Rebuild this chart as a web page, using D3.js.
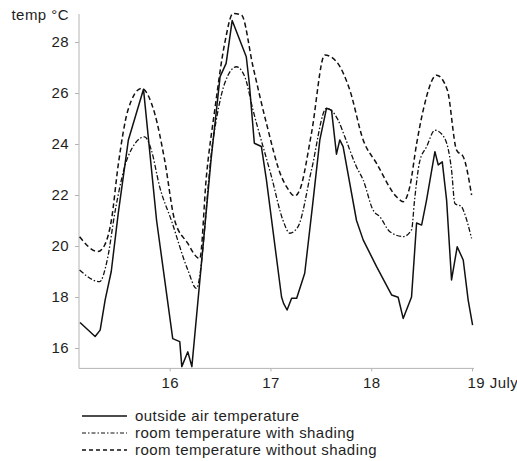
<!DOCTYPE html>
<html>
<head>
<meta charset="utf-8">
<script src="https://cdn.jsdelivr.net/npm/d3@7/dist/d3.min.js"></script>
<style>
  html, body { margin: 0; padding: 0; background: #fff; }
  svg { display: block; font-family: "Liberation Sans", Arial, Helvetica, sans-serif; }
</style>
</head>
<body>
<svg id="chart" width="517" height="461"></svg>
<script>
// Time in days (July), temperatures in °C
const outsideTime = [15.11, 15.26, 15.31, 15.36, 15.42, 15.49, 15.59, 15.74, 15.87, 16.03, 16.10, 16.12, 16.18, 16.22,
  16.41, 16.50, 16.56, 16.62, 16.76, 16.79, 16.84, 16.91, 16.96, 17.11, 17.13, 17.165, 17.21, 17.26, 17.34, 17.42,
  17.49, 17.556, 17.606, 17.655, 17.688, 17.721, 17.854, 17.92, 18.053, 18.202, 18.267, 18.317, 18.40, 18.45, 18.50,
  18.549, 18.632, 18.665, 18.705, 18.748, 18.797, 18.853, 18.913, 18.962, 19.006];
const outsideTemp = [17.0, 16.45, 16.7, 17.9, 19.0, 21.3, 24.16, 26.15, 21.0, 16.37, 16.25, 15.27, 15.85, 15.27,
  23.37, 26.64, 27.16, 28.84, 27.42, 26.38, 24.03, 23.9, 22.59, 18.0, 17.75, 17.49, 17.95, 17.95, 18.93, 21.67,
  24.16, 25.4, 25.33, 23.6, 24.16, 23.9, 21.0, 20.24, 19.19, 18.08, 17.99, 17.16, 18.0, 20.9, 20.82,
  21.8, 23.7, 23.18, 23.3, 21.8, 18.67, 19.97, 19.45, 17.88, 16.9];

const shadedTime = [15.106, 15.305, 15.38, 15.46, 15.586, 15.751, 15.818, 15.90, 16.017, 16.18, 16.265,
  16.43, 16.546, 16.662, 16.745, 16.827, 17.01, 17.125, 17.192, 17.274, 17.407, 17.556, 17.671, 17.738,
  17.854, 17.92, 18.019, 18.085, 18.185, 18.317, 18.40, 18.43, 18.48, 18.55, 18.632, 18.721, 18.797,
  18.83, 18.897, 18.913, 18.996];
const shadedTemp = [19.06, 18.6, 19.45, 21.4, 23.5, 24.28, 23.76, 22.33, 21.0, 19.06, 18.34,
  24.16, 26.38, 27.03, 26.64, 25.33, 22.72, 21.0, 20.5, 20.76, 22.98, 25.4, 24.94, 24.28,
  23.1, 22.59, 21.4, 21.15, 20.56, 20.37, 20.63, 21.8, 23.3, 23.9, 24.54, 24.28, 22.98,
  21.67, 21.54, 21.41, 20.3];

const unshadedTime = [15.106, 15.288, 15.355, 15.421, 15.49, 15.586, 15.719, 15.851, 15.95, 16.05, 16.18, 16.265, 16.298,
  16.364, 16.447, 16.546, 16.629, 16.712, 16.827, 16.96, 17.109, 17.159, 17.241, 17.291, 17.407, 17.539,
  17.655, 17.787, 17.92, 18.053, 18.251, 18.317, 18.383, 18.45, 18.516, 18.649, 18.755, 18.847, 18.913, 18.996];
const unshadedTemp = [20.36, 19.78, 20.04, 21.0, 23.2, 25.33, 26.18, 25.2, 23.37, 21.0, 20.1, 19.58, 19.5,
  22.72, 25.33, 27.95, 29.12, 29.06, 27.03, 24.81, 22.72, 22.33, 21.96, 22.2, 24.42, 27.49,
  27.23, 26.12, 24.16, 23.24, 21.93, 21.74, 22.33, 24.0, 25.33, 26.7, 26.12, 23.76, 23.5, 22.0];

const yTicks = [16, 18, 20, 22, 24, 26, 28];
const xTicks = [16, 17, 18, 19];
const xTickLabels = ["16", "17", "18", "19 July"];
const seriesNames = ["outside air temperature", "room temperature with shading", "room temperature without shading"];

const svg = d3.select("#chart");
const x = d3.scaleLinear().domain([15.1, 19]).range([79, 472]);
const y = d3.scaleLinear().domain([16, 28]).range([348, 42]);

const axisColor = "#b4b4b4";
const textColor = "#1e1e1e";
const fontSize = "15px";
const letterSpacing = "0.45px";

// Axis lines
svg.append("line").attr("x1", 79).attr("x2", 79).attr("y1", 14).attr("y2", y(15.2))
  .attr("stroke", axisColor).attr("stroke-width", 1);
svg.append("line").attr("x1", 79).attr("x2", 474).attr("y1", y(15.2)).attr("y2", y(15.2))
  .attr("stroke", axisColor).attr("stroke-width", 1);

function styleText(sel) {
  sel.attr("fill", textColor).style("font-size", fontSize)
    .style("letter-spacing", letterSpacing)
    .style("font-family", "'Liberation Sans', Arial, sans-serif");
}

// Y axis
const yAxis = d3.axisLeft(y).tickValues(yTicks).tickSize(4).tickPadding(6).tickFormat(d3.format("d"));
const gy = svg.append("g").attr("transform", "translate(79,0)").call(yAxis);
gy.select(".domain").remove();
gy.selectAll(".tick line").attr("stroke", axisColor);
gy.selectAll(".tick text").call(styleText);

// X axis
const xAxis = d3.axisBottom(x).tickValues(xTicks).tickSize(3).tickPadding(6)
  .tickFormat((d, i) => xTickLabels[i]);
const gx = svg.append("g").attr("transform", `translate(0,${y(15.2)})`).call(xAxis);
gx.select(".domain").remove();
gx.selectAll(".tick line").attr("stroke", axisColor);
gx.selectAll(".tick text").call(styleText);
gx.selectAll(".tick text").filter((d, i) => i === xTicks.length - 1)
  .attr("text-anchor", "start").attr("x", -5);

// Y axis title
svg.append("text").attr("x", 69).attr("y", 20).attr("text-anchor", "end")
  .call(styleText).text("temp °C");

// Series lines: measured outside air as a polyline, room curves smoothed
const linear = d3.line().x(d => x(d[0])).y(d => y(d[1]));
const smooth = d3.line().x(d => x(d[0])).y(d => y(d[1])).curve(d3.curveMonotoneX);
const styles = [
  { dash: null, width: 1.5, gen: linear },
  { dash: "5,2,1.5,2", width: 1.3, gen: smooth },
  { dash: "5,3", width: 1.5, gen: smooth }
];
const series = [
  d3.zip(outsideTime, outsideTemp),
  d3.zip(shadedTime, shadedTemp),
  d3.zip(unshadedTime, unshadedTemp)
];
series.forEach((pts, i) => {
  svg.append("path").datum(pts).attr("d", styles[i].gen)
    .attr("fill", "none").attr("stroke", "#111")
    .attr("stroke-width", styles[i].width)
    .attr("stroke-dasharray", styles[i].dash)
    .attr("stroke-linejoin", "round");
});

// Legend
const legend = svg.append("g");
seriesNames.forEach((name, i) => {
  const ly = 416 + i * 17;
  legend.append("line").attr("x1", 82).attr("x2", 127).attr("y1", ly).attr("y2", ly)
    .attr("stroke", "#111").attr("stroke-width", i === 1 ? 1.1 : 1.3)
    .attr("stroke-dasharray", i === 0 ? null : (i === 1 ? "4,2,1.5,2" : "4,3"));
  legend.append("text").attr("x", 135).attr("y", ly + 5).call(styleText).text(name);
});
</script>
</body>
</html>
